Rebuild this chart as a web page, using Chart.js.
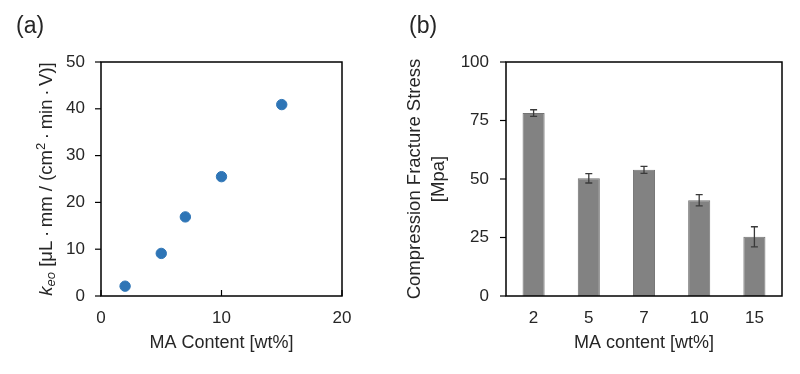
<!DOCTYPE html>
<html><head><meta charset="utf-8">
<script src="https://cdn.jsdelivr.net/npm/chart.js@4.4.1/dist/chart.umd.min.js"></script>
<style>
html,body{margin:0;padding:0;background:#fff;}
#wrap{position:relative;width:800px;height:374px;overflow:hidden;}
canvas{position:absolute;top:0;}
.lbl{position:absolute;font-family:"Liberation Sans",Arial,sans-serif;font-size:23px;line-height:23px;color:#262626;}
</style></head><body>
<div id="wrap">
<canvas id="ca" width="400" height="374" style="left:0"></canvas>
<canvas id="cb" width="400" height="374" style="left:400px"></canvas>
<div class="lbl" style="left:16px;top:14px;">(a)</div>
<div class="lbl" style="left:409px;top:14px;">(b)</div>
</div>
<script>
// ---- data ----
const scatterX = [2, 5, 7, 10, 15];
const scatterY = [2.1, 9.1, 16.9, 25.5, 40.9];
const aXTicks = [0, 10, 20];
const aYTicks = [0, 10, 20, 30, 40, 50];

const barLabels = ['2', '5', '7', '10', '15'];
const barValues = [78.2, 50.3, 53.9, 40.9, 25.3];
const barErrors = [1.4, 2.0, 1.5, 2.4, 4.3];
const bYTicks = [0, 25, 50, 75, 100];

const aXTitle = 'MA Content [wt%]';
const bXTitle = 'MA content [wt%]';
const bYTitle = ['Compression Fracture Stress', '[Mpa]'];

// ---- style ----
const FONT = '"Liberation Sans", Arial, sans-serif';
const TXT = '#262626';
Chart.defaults.font.family = FONT;
Chart.defaults.color = TXT;

const framePlugin = {
  id: 'frame',
  afterDatasetsDraw(chart, args, opts) {
    const {ctx, chartArea: {left, right, top, bottom}} = chart;
    ctx.save();
    ctx.strokeStyle = '#000';
    ctx.lineWidth = 1.5;
    ctx.strokeRect(left, top, right - left, bottom - top);
    ctx.lineWidth = 1.2;
    const ys = chart.scales.y;
    ys.ticks.forEach(t => {
      const p = ys.getPixelForValue(t.value);
      ctx.beginPath(); ctx.moveTo(left - 6, p); ctx.lineTo(left, p); ctx.stroke();
    });
    if (opts.xInside) {
      const xs = chart.scales.x;
      xs.ticks.forEach(t => {
        const p = xs.getPixelForValue(t.value);
        ctx.beginPath(); ctx.moveTo(p, bottom); ctx.lineTo(p, bottom - 6); ctx.stroke();
      });
    }
    ctx.restore();
  }
};

const errPlugin = {
  id: 'errbars',
  afterDatasetsDraw(chart) {
    const {ctx} = chart;
    const meta = chart.getDatasetMeta(0);
    const ys = chart.scales.y;
    ctx.save();
    ctx.strokeStyle = '#3a3a3a';
    ctx.lineWidth = 1.3;
    meta.data.forEach((el, i) => {
      const v = barValues[i], e = barErrors[i];
      const x = el.x;
      const y1 = ys.getPixelForValue(v + e), y2 = ys.getPixelForValue(v - e);
      ctx.beginPath();
      ctx.moveTo(x, y1); ctx.lineTo(x, y2);
      ctx.moveTo(x - 3.5, y1); ctx.lineTo(x + 3.5, y1);
      ctx.moveTo(x - 3.5, y2); ctx.lineTo(x + 3.5, y2);
      ctx.stroke();
    });
    ctx.restore();
  }
};

const yTitleA = {
  id: 'ytitleA',
  afterDraw(chart) {
    const {ctx, chartArea: {top, bottom}} = chart;
    const segs = [
      {t: 'k', font: 'italic 18.5px ' + FONT, dy: 0},
      {t: 'eo', font: 'italic 13px ' + FONT, dy: 3},
      {t: ' [μL\u2009·\u2009mm / (cm', font: '18.5px ' + FONT, dy: 0},
      {t: '2', font: '13px ' + FONT, dy: -7},
      {t: '\u2009·\u2009min\u2009·\u2009V)]', font: '18.5px ' + FONT, dy: 0}
    ];
    ctx.save();
    ctx.translate(52, (top + bottom) / 2);
    ctx.rotate(-Math.PI / 2);
    ctx.fillStyle = TXT;
    ctx.textBaseline = 'alphabetic';
    let total = 0;
    segs.forEach(s => { ctx.font = s.font; s.w = ctx.measureText(s.t).width; total += s.w; });
    let x = -total / 2;
    segs.forEach(s => { ctx.font = s.font; ctx.fillText(s.t, x, s.dy); x += s.w; });
    ctx.restore();
  }
};

const tickFont = {size: 17};

// ---- chart (a) ----
new Chart(document.getElementById('ca'), {
  type: 'scatter',
  data: {
    datasets: [{
      data: scatterX.map((x, i) => ({x: x, y: scatterY[i]})),
      backgroundColor: '#2e75b6',
      borderColor: '#2e75b6',
      pointRadius: 5.2,
      pointHoverRadius: 5.2
    }]
  },
  options: {
    responsive: false,
    animation: false,
    layout: {padding: {left: 0, right: 58, top: 62, bottom: 0}},
    plugins: {legend: {display: false}, tooltip: {enabled: false}, frame: {xInside: true}},
    scales: {
      x: {
        type: 'linear', min: 0, max: 20,
        afterBuildTicks: s => { s.ticks = aXTicks.map(v => ({value: v})); },
        afterFit: s => { s.height = 78; },
        grid: {display: false, drawTicks: false, tickLength: 0},
        border: {display: false},
        ticks: {font: tickFont, padding: 12, color: TXT, maxRotation: 0},
        title: {display: true, text: aXTitle, font: {size: 18}, padding: {top: 0, bottom: 20}, color: TXT}
      },
      y: {
        type: 'linear', min: 0, max: 50,
        afterBuildTicks: s => { s.ticks = aYTicks.map(v => ({value: v})); },
        afterFit: s => { s.width = 101; },
        grid: {display: false, drawTicks: false, tickLength: 0},
        border: {display: false},
        ticks: {font: tickFont, padding: 16, color: TXT}
      }
    }
  },
  plugins: [framePlugin, yTitleA]
});

// ---- chart (b) ----
new Chart(document.getElementById('cb'), {
  type: 'bar',
  data: {
    labels: barLabels,
    datasets: [{
      data: barValues,
      backgroundColor: '#828282',
      borderColor: '#737373',
      borderWidth: 1,
      barPercentage: 0.4,
      categoryPercentage: 1.0
    }]
  },
  options: {
    responsive: false,
    animation: false,
    layout: {padding: {left: 0, right: 18, top: 62, bottom: 0}},
    plugins: {legend: {display: false}, tooltip: {enabled: false}, frame: {xInside: false}},
    scales: {
      x: {
        afterFit: s => { s.height = 78; },
        grid: {display: false, drawTicks: false, tickLength: 0},
        border: {display: false},
        ticks: {font: tickFont, padding: 12, color: TXT, maxRotation: 0},
        title: {display: true, text: bXTitle, font: {size: 18}, padding: {top: 0, bottom: 20}, color: TXT}
      },
      y: {
        type: 'linear', min: 0, max: 100,
        afterBuildTicks: s => { s.ticks = bYTicks.map(v => ({value: v})); },
        afterFit: s => { s.width = 106; },
        grid: {display: false, drawTicks: false, tickLength: 0},
        border: {display: false},
        ticks: {font: tickFont, padding: 17, color: TXT},
        title: {display: true, text: bYTitle, font: {size: 18.5, lineHeight: 1.3}, padding: {top: 3, bottom: 0}, color: TXT}
      }
    }
  },
  plugins: [errPlugin, framePlugin]
});
</script>
</body></html>
